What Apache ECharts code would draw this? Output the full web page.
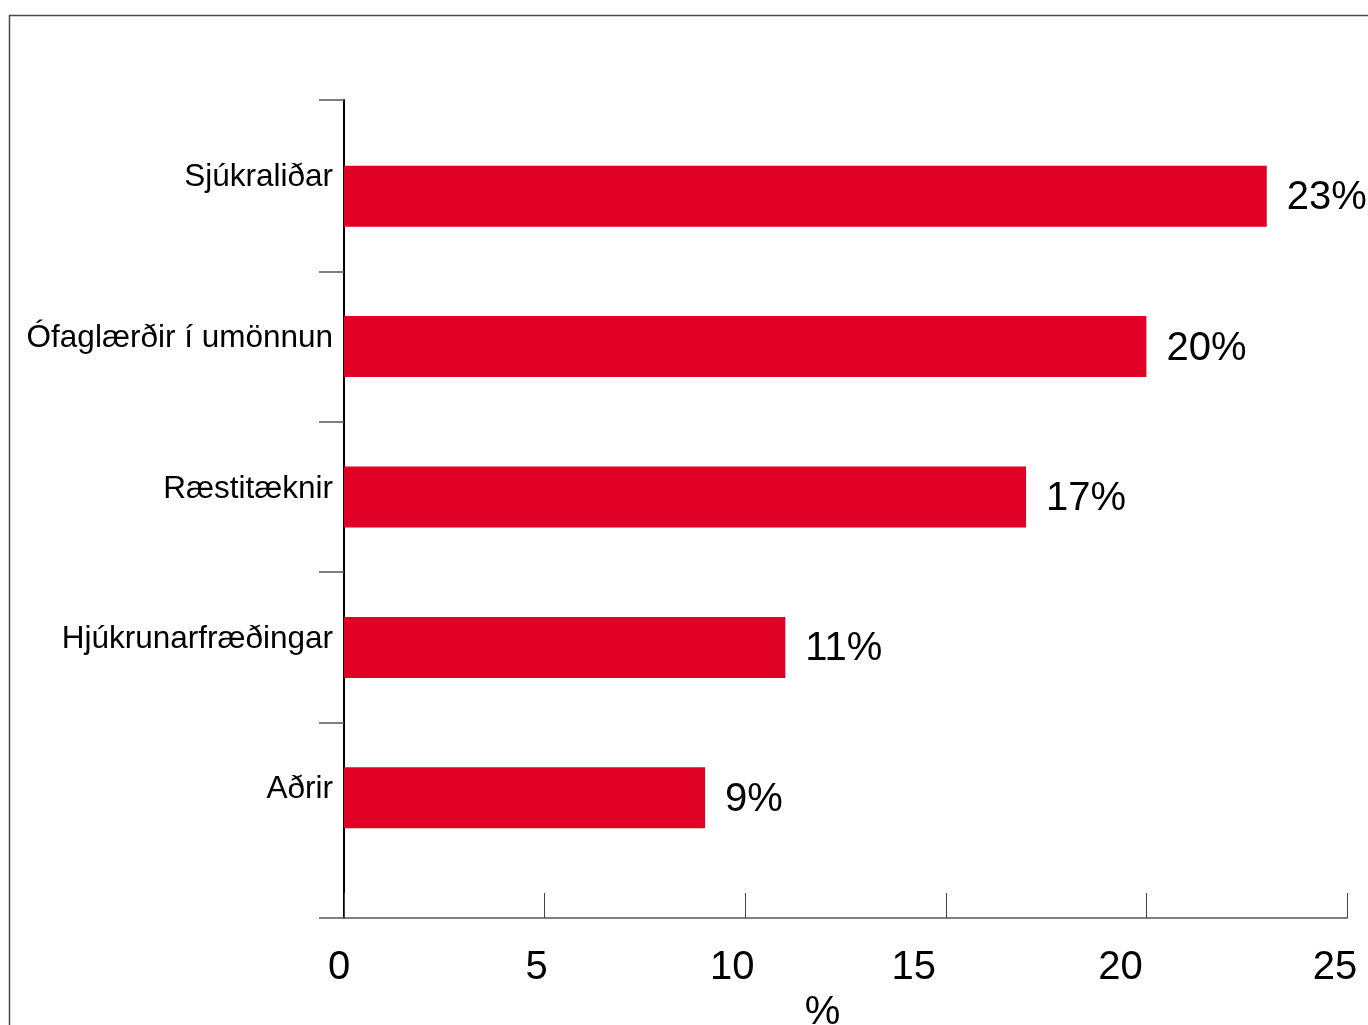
<!DOCTYPE html>
<html>
<head>
<meta charset="utf-8">
<title>Starfshópar</title>
<script src="https://cdn.jsdelivr.net/npm/echarts@6/dist/echarts.min.js"></script>
<style>
  html, body { margin: 0; padding: 0; background: #fff; }
  #chart { width: 1368px; height: 1025px; }
</style>
</head>
<body>
<div id="chart"></div>
<script>
// Starfshópar og hlutfall (%)
const categories = ['Sjúkraliðar', 'Ófaglærðir í umönnun', 'Ræstitæknir', 'Hjúkrunarfræðingar', 'Aðrir'];
const shares = [23, 20, 17, 11, 9];
const xTicks = [0, 5, 10, 15, 20, 25];

const FONT = 'Liberation Sans, Arial, Helvetica, sans-serif';
const BAR_RED = '#E00026';

// Plot frame (pixels): axes run from y=100 to y=918, bars occupy the inner band.
const axisTop = 100, axisBottom = 918;
const barTop = 121, barBottom = 873;
const H = 1025;
const band = (barBottom - barTop) / categories.length;
const minU = -(barTop - axisTop) / band;
const maxU = categories.length + (axisBottom - barBottom) / band;
const boundaryTicks = [minU];
for (let i = 1; i < categories.length; i++) boundaryTicks.push(i);
boundaryTicks.push(maxU);

// tick label nudges (px to the left) for the x axis numbers
const labelShift = { 0: 5, 5: 8, 10: 13, 15: 32, 20: 26, 25: 12 };
const rich = {};
xTicks.forEach(v => {
  rich['t' + v] = {
    fontSize: 40, fontFamily: FONT, color: '#000',
    padding: [0, 2 * labelShift[v], 0, 0]
  };
});

const chart = echarts.init(document.getElementById('chart'), null, { renderer: 'canvas' });

chart.setOption({
  backgroundColor: '#fff',
  animation: false,
  graphic: [{
    type: 'rect',
    shape: { x: 9.5, y: 15.5, width: 1500, height: 1200 },
    style: { fill: 'none', stroke: '#4a4a4a', lineWidth: 1.5 },
    silent: true,
    z: 0
  }],
  grid: [
    { left: 344, right: 21, top: barTop, bottom: H - barBottom, outerBoundsMode: 'none', containLabel: false },
    { left: 344, right: 21, top: axisTop, bottom: H - axisBottom, outerBoundsMode: 'none', containLabel: false }
  ],
  xAxis: [
    { gridIndex: 0, type: 'value', min: 0, max: 25, show: false },
    {
      gridIndex: 1, type: 'value', min: 0, max: 25, interval: 5,
      position: 'bottom',
      axisLine: { show: true, onZero: false, lineStyle: { color: '#555', width: 1.5 } },
      axisTick: { show: true, inside: true, length: 25, lineStyle: { color: '#444', width: 1 } },
      splitLine: { show: false },
      axisLabel: {
        margin: 30, showMinLabel: true, showMaxLabel: true,
        formatter: v => '{t' + v + '|' + v + '}',
        rich: rich
      },
      name: '%',
      nameLocation: 'middle',
      nameGap: 72,
      nameTextStyle: { fontSize: 40, fontFamily: FONT, color: '#000', padding: [0, 46, 0, 0] }
    }
  ],
  yAxis: [
    {
      gridIndex: 0, type: 'category', data: categories, inverse: true,
      axisLine: { show: false },
      axisTick: { show: false },
      axisLabel: {
        margin: 11, fontSize: 31.5, fontFamily: FONT, color: '#000',
        lineHeight: 16, verticalAlign: 'bottom',
        formatter: (v, i) => i === 0 ? '{hi|' + v + '}' : v,
        rich: {
          hi: { fontSize: 31.5, fontFamily: FONT, color: '#000', lineHeight: 38 }
        }
      }
    },
    {
      gridIndex: 1, type: 'value', inverse: true, min: minU, max: maxU,
      axisLine: { show: true, onZero: false, lineStyle: { color: '#000', width: 2 } },
      axisTick: {
        show: true, inside: false, length: 25,
        customValues: boundaryTicks,
        lineStyle: { color: '#555', width: 1.5 }
      },
      axisLabel: { show: false },
      splitLine: { show: false }
    }
  ],
  series: [{
    type: 'bar',
    xAxisIndex: 0,
    yAxisIndex: 0,
    data: shares,
    barWidth: 61,
    itemStyle: { color: BAR_RED },
    label: {
      show: true,
      position: 'right',
      distance: 20,
      offset: [0, 2],
      formatter: '{c}%',
      fontSize: 40,
      fontFamily: FONT,
      color: '#000'
    },
    z: 2
  }]
});
</script>
</body>
</html>
